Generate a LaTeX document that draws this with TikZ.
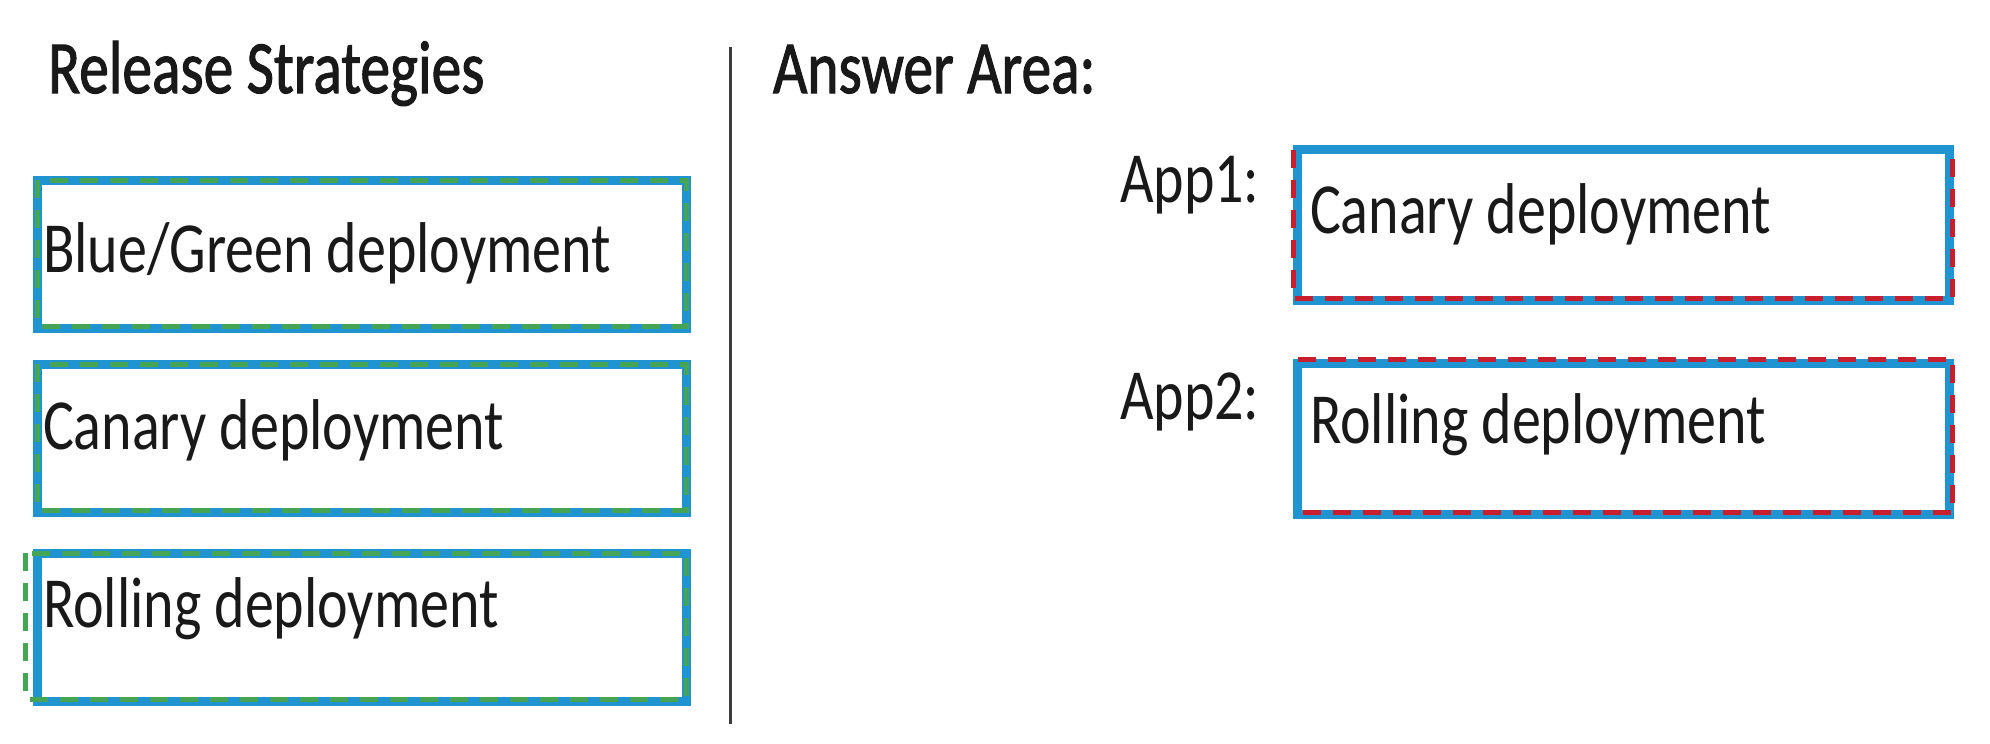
\documentclass[tikz,border=0pt]{standalone}
\usepackage{fontspec}
\usepackage{graphicx}
\setmainfont{Carlito}
\newfontfamily\headfont[FakeBold=1.6]{Carlito}
\definecolor{boxblue}{RGB}{32,148,208}
\definecolor{dashgreen}{RGB}{70,165,85}
\definecolor{dashred}{RGB}{200,30,45}
\definecolor{inkgray}{RGB}{25,25,25}
\definecolor{rulegray}{RGB}{60,60,60}
\newcommand{\tall}[1]{\scalebox{1}[1.24]{#1}}
\newcommand{\tallhead}[1]{\scalebox{0.99}[1.25]{#1}}

\begin{document}
\begin{tikzpicture}[x=1pt,y=1pt,
	every node/.style={inner sep=0pt,outer sep=0pt},
	optbox/.style={draw=boxblue,line width=9pt,minimum width=649pt,minimum height=148pt},
	ansbox/.style={optbox,minimum width=652pt,minimum height=151pt},
	greendash/.style={draw=dashgreen,line width=5pt,dash pattern=on 18pt off 12pt},
	reddash/.style={draw=dashred,line width=5pt,dash pattern=on 18pt off 12pt},
	boxtext/.style={anchor=base west,text=inkgray,font=\fontsize{58}{60}\selectfont},
	headtext/.style={boxtext,font=\headfont\fontsize{60}{62}\selectfont},
	divider/.style={draw=rulegray,line width=3pt}]
		\fill [white] (0,0) rectangle (1990,-744);
		\useasboundingbox (0,0) rectangle (1990,-744);
		\node [headtext] (relhead) at (48,-93) {\tallhead{Release Strategies}};
		\node [headtext] (anshead) at (773,-93) {\tallhead{Answer Area:}};
		\coordinate (divtop) at (730,-47);
		\coordinate (divbot) at (730,-724);
		\draw [divider] (divtop) -- (divbot);
		\node [optbox] (bluegreen) at (362,-254) {};
		\node [optbox] (canary) at (362,-438) {};
		\node [optbox] (rolling) at (362,-627) {};
		\draw [greendash] (bluegreen.north west) rectangle ([yshift=2pt]bluegreen.south east);
		\draw [greendash] (canary.north west) rectangle ([yshift=2pt]canary.south east);
		\draw [greendash] ([xshift=-12pt]rolling.north west) rectangle ([yshift=2pt]rolling.south east);
		\node [boxtext] (bgtext) at (43,-272) {\tall{Blue/Green deployment}};
		\node [boxtext] (cantext) at (43,-449) {\tall{Canary deployment}};
		\node [boxtext] (roltext) at (43,-627) {\tall{Rolling deployment}};
		\node [boxtext] (app1lbl) at (1120,-202) {\tall{App1:}};
		\node [boxtext] (app2lbl) at (1120,-419) {\tall{App2:}};
		\node [ansbox] (app1) at (1623.5,-225) {};
		\node [ansbox] (app2) at (1623.5,-439) {};
		\draw [reddash] ([xshift=-4pt]app1.north west) -- ([xshift=-4pt,yshift=2pt]app1.south west) -- ([xshift=3pt,yshift=2pt]app1.south east) -- ([xshift=3pt]app1.north east);
		\draw [reddash] ([yshift=4pt]app2.north west) -- ([xshift=3pt,yshift=4pt]app2.north east) -- ([xshift=3pt,yshift=2pt]app2.south east) -- ([yshift=2pt]app2.south west);
		\node [boxtext] (app1text) at (1310,-233) {\tall{Canary deployment}};
		\node [boxtext] (app2text) at (1310,-443) {\tall{Rolling deployment}};
	\end{tikzpicture}
\end{document}
